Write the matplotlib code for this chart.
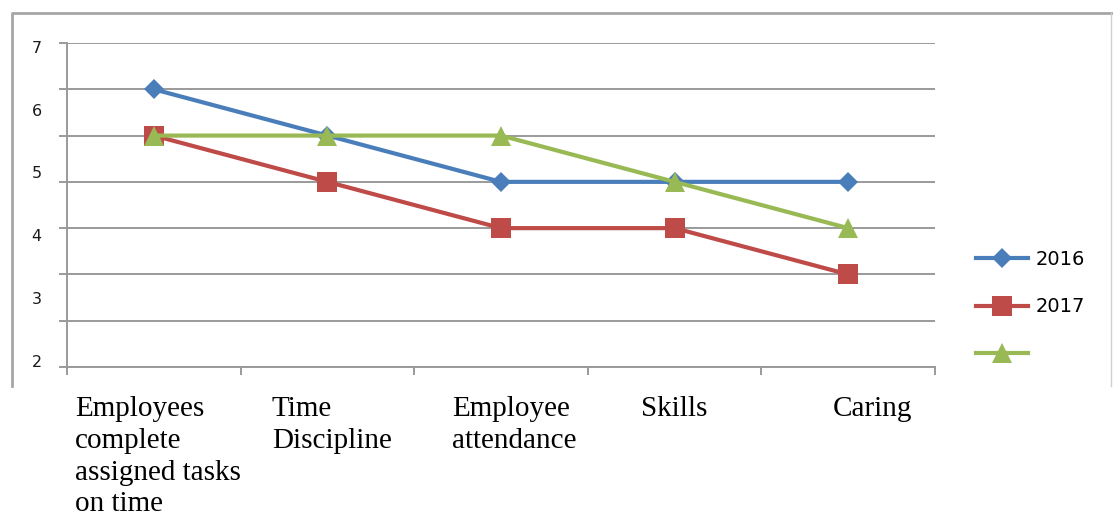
import matplotlib
matplotlib.use("Agg")
import matplotlib.pyplot as plt
from matplotlib.lines import Line2D
import numpy as np

# data (values read in grid steps, bottom gridline = 0)
categories = ["Employees\ncomplete\nassigned tasks\non time", "Time\nDiscipline",
              "Employee\nattendance", "Skills", "Caring"]
s2016 = [6, 5, 4, 4, 4]
s2017 = [5, 4, 3, 3, 2]
s_green = [5, 5, 5, 4, 3]
series_names = ["2016", "2017", " "]
ytick_labels = ["7", "6", "5", "4", "3", "2"]

W, H = 1113, 519
fig = plt.figure(figsize=(W / 100, H / 100), dpi=100)

def fx(px):
    return px / W

def fy(py):
    return 1 - py / H

ax = fig.add_axes([fx(67), fy(367), fx(935) - fx(67), fy(43) - fy(367)])

grid_col = "#9a9a9a"
x = np.arange(len(categories))
ax.plot(x, s2016, color="#4a7ebb", lw=3, marker="D", ms=10.5, mew=0, label=series_names[0])
ax.plot(x, s2017, color="#be4b48", lw=3, marker="s", ms=14, mew=0, label=series_names[1])
ax.plot(x, s_green, color="#98b954", lw=3, marker="^", ms=14, mew=0, label=series_names[2])

ax.set_xlim(-0.5, len(categories) - 0.5)
ax.set_ylim(0, 7)
ax.set_yticks(range(0, 8))
ax.set_yticklabels([])
ax.yaxis.grid(True, color=grid_col, lw=1.4)
ax.set_axisbelow(True)
ax.set_xticks(np.arange(-0.5, len(categories), 1.0))
ax.set_xticklabels([])
ax.tick_params(axis="both", color=grid_col, width=1.4, length=5.5, direction="out")
for side in ["top", "right"]:
    ax.spines[side].set_visible(False)
for side in ["left", "bottom"]:
    ax.spines[side].set_color(grid_col)
    ax.spines[side].set_linewidth(1.4)

# y labels (as they sit in the source picture, spread over the axis)
for lab, yv in zip(ytick_labels, np.linspace(6.89, 0.09, len(ytick_labels))):
    ax.text(-0.035, yv, lab, transform=ax.get_yaxis_transform(), ha="center",
            va="center", fontsize=11.5, color="#1a1a1a", clip_on=False)

# category labels, left aligned text boxes under the chart
label_x = [75, 272, 452, 641, 833]
for lab, px in zip(categories, label_x):
    fig.text(fx(px), fy(396), lab, ha="left", va="top", fontsize=21,
             family="Liberation Serif", linespacing=1.29, color="black")

leg = ax.legend(loc="upper left", bbox_to_anchor=(fx(966), fy(240)),
                bbox_transform=fig.transFigure, frameon=False, fontsize=14,
                handlelength=2.7, handletextpad=0.4, labelspacing=1.47,
                borderpad=0)

# outer chart frame
frame_col = "#a6a6a6"
fig.add_artist(Line2D([fx(12), fx(12), fx(1112)], [fy(386), fy(13), fy(13)],
                      color=frame_col, lw=2, transform=fig.transFigure))
fig.add_artist(Line2D([fx(1111), fx(1111)], [fy(13), fy(386)],
                      color="#d0d0d0", lw=1, transform=fig.transFigure))

fig.savefig("out.png", dpi=100)
